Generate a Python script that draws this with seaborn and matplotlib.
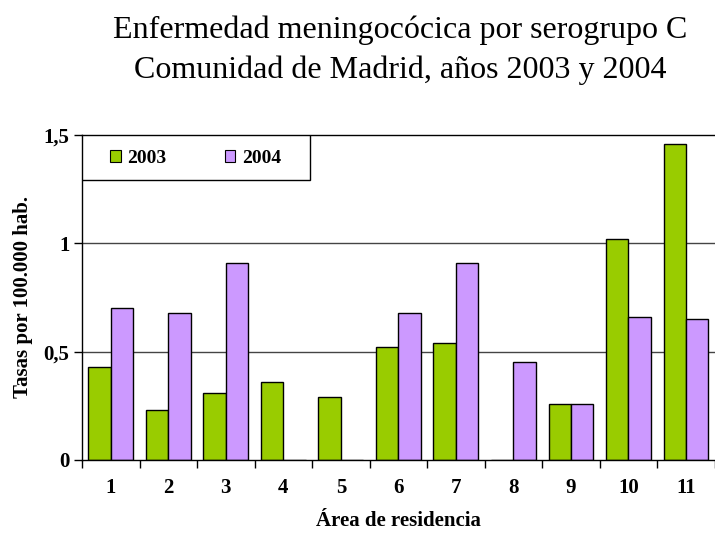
import numpy as np
import pandas as pd
import matplotlib
matplotlib.use("Agg")
import matplotlib.pyplot as plt
import matplotlib.patches as mpatches
import seaborn as sns

# Data
areas = ["1", "2", "3", "4", "5", "6", "7", "8", "9", "10", "11"]
tasas_2003 = [0.43, 0.23, 0.31, 0.36, 0.29, 0.52, 0.54, 0.0, 0.26, 1.02, 1.46]
tasas_2004 = [0.70, 0.68, 0.91, 0.0, 0.0, 0.68, 0.91, 0.45, 0.26, 0.66, 0.65]
years = ["2003", "2004"]
y_ticks = [0, 0.5, 1, 1.5]
y_tick_labels = ["0", "0,5", "1", "1,5"]

df = pd.DataFrame({
    "area": areas * 2,
    "year": [years[0]] * len(areas) + [years[1]] * len(areas),
    "tasa": tasas_2003 + tasas_2004,
})

sns.set_theme(style="white")
plt.rcParams["font.family"] = ["Liberation Serif", "DejaVu Serif"]
plt.rcParams["text.color"] = "black"
plt.rcParams["axes.labelcolor"] = "black"
plt.rcParams["xtick.color"] = "black"
plt.rcParams["ytick.color"] = "black"

fig = plt.figure(figsize=(7.15, 5.33), dpi=100)
ax = fig.add_axes([0.1147, 0.137, 0.885, 0.6097])

palette = {"2003": "#99CC00", "2004": "#CC99FF"}
sns.barplot(data=df, x="area", y="tasa", hue="year", order=areas,
            hue_order=years, palette=palette, width=0.78,
            edgecolor="black", linewidth=1, saturation=1, ax=ax)

ax.set_ylim(0, 1.5)
ax.set_xlim(-0.5, len(areas) - 0.5)
ax.set_yticks(y_ticks)
ax.set_yticklabels(y_tick_labels, fontweight="bold", fontsize=15)
ax.set_xticks(range(len(areas)))
ax.set_xticklabels(areas, fontweight="bold", fontsize=15)
ax.set_xticks(np.arange(-0.5, len(areas), 1), minor=True)
ax.tick_params(axis="x", which="major", length=0, pad=13)
ax.tick_params(axis="x", which="minor", length=6, width=1, color="black",
               direction="out", bottom=True)
ax.tick_params(axis="y", length=6, width=1, color="black", direction="out",
               left=True, pad=3)

for v in [0.5, 1.0]:
    ax.axhline(v, color="#444444", lw=1, zorder=0)

for side in ["left", "bottom", "top"]:
    ax.spines[side].set_visible(True)
    ax.spines[side].set_color("black")
    ax.spines[side].set_linewidth(1)
ax.spines["right"].set_visible(False)

ax.set_xlabel("Área de residencia", fontweight="bold", fontsize=15, labelpad=9)
ax.set_ylabel("Tasas por 100.000 hab.", fontweight="bold", fontsize=15, labelpad=8)

# legend: entries without frame, plus a plain box like the original
handles, labels = ax.get_legend_handles_labels()
leg = ax.legend(handles, labels, loc="center left", ncol=2,
                bbox_to_anchor=(0.045, 0.928),
                frameon=False,
                prop={"weight": "bold", "size": 14},
                handlelength=0.52, handleheight=0.52, handletextpad=0.36,
                borderaxespad=0, borderpad=0, columnspacing=3.0)
for h in leg.legend_handles:
    h.set_edgecolor("black")
    h.set_linewidth(0.8)
box = mpatches.Rectangle((0, 0.862), 0.36, 0.138, transform=ax.transAxes,
                         facecolor="white", edgecolor="black", lw=1, zorder=4)
ax.add_patch(box)
leg.set_zorder(5)

fig.text(0.56, 0.944, "Enfermedad meningocócica por serogrupo C",
         ha="center", va="center", fontsize=23)
fig.text(0.56, 0.869, "Comunidad de Madrid, años 2003 y 2004",
         ha="center", va="center", fontsize=23)

fig.savefig("out.png", dpi=100, facecolor="white")
